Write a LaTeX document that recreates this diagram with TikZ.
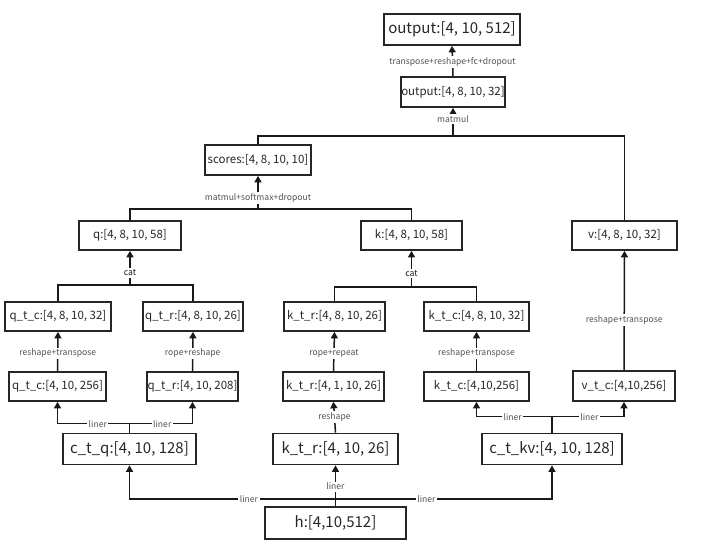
\documentclass[tikz,border=0pt]{standalone}
\usepackage{fontspec}
\setmainfont{Noto Sans CJK SC}
\usetikzlibrary{arrows.meta,calc}
\begin{document}
\begin{tikzpicture}[x=1pt,y=-1pt,
  box/.style={draw=black!85,line width=1.7pt,inner sep=0pt,minimum height=29pt,text=black!85,font=\fontsize{11.5}{13}\selectfont},
  bigbox/.style={box,minimum height=31pt,font=\fontsize{15}{17}\selectfont},
  ln/.style={line width=1.5pt,black!90},
  arr/.style={ln,-{Triangle[length=6.5pt,width=7pt]}},
  lbl/.style={fill=white,inner sep=1.5pt,text=black!68,font=\fontsize{8.6}{10}\selectfont},
  catlbl/.style={lbl,text=black!90}]
\useasboundingbox (0,0) rectangle (720,546);
% nodes
\node[bigbox,minimum width=136pt] (out1) at (452,29.5) {output:[4, 10, 512]};
\node[box,minimum width=104pt,minimum height=30pt] (out2) at (453,92) {output:[4, 8, 10, 32]};
\node[box,minimum width=106pt,minimum height=30pt] (scores) at (258,160) {scores:[4, 8, 10, 10]};
\node[box,minimum width=102pt] (q) at (130,235.5) {q:[4, 8, 10, 58]};
\node[box,minimum width=101pt] (k) at (411.5,235.5) {k:[4, 8, 10, 58]};
\node[box,minimum width=105pt] (v) at (624.5,235.5) {v:[4, 8, 10, 32]};
\node[box,minimum width=106pt] (qtc) at (58,316.5) {q\_t\_c:[4, 8, 10, 32]};
\node[box,minimum width=100pt] (qtr) at (193,316.5) {q\_t\_r:[4, 8, 10, 26]};
\node[box,minimum width=101pt] (ktr) at (334.5,316.5) {k\_t\_r:[4, 8, 10, 26]};
\node[box,minimum width=105pt] (ktc) at (476.5,316.5) {k\_t\_c:[4, 8, 10, 32]};
\node[box,minimum width=97pt] (qtc2) at (57.5,386.5) {q\_t\_c:[4, 10, 256]};
\node[box,minimum width=91pt] (qtr2) at (192.5,386.5) {q\_t\_r:[4, 10, 208]};
\node[box,minimum width=101pt] (ktr2) at (333.5,386.5) {k\_t\_r:[4, 1, 10, 26]};
\node[box,minimum width=105pt] (ktc2) at (476.5,386.5) {k\_t\_c:[4,10,256]};
\node[box,minimum width=102pt,minimum height=30pt] (vtc) at (624,386) {v\_t\_c:[4,10,256]};
\node[bigbox,minimum width=133pt] (ctq) at (129.5,449) {c\_t\_q:[4, 10, 128]};
\node[bigbox,minimum width=125pt] (ktr3) at (335.5,449) {k\_t\_r:[4, 10, 26]};
\node[bigbox,minimum width=140pt] (ctkv) at (552,449) {c\_t\_kv:[4, 10, 128]};
\node[bigbox,minimum width=141pt,minimum height=32pt] (h) at (335.5,523) {h:[4,10,512]};
% junctions
\coordinate (j1) at ($(out2.south)+(0,28)$);
\coordinate (j2) at ($(scores.south)+(0,33)$);
\coordinate (jq) at ($(q.south)+(0,34)$);
\coordinate (jk) at ($(k.south)+(0,36)$);
\coordinate (jcq) at ($(ctq.north)+(0,-9)$);
\coordinate (jckv) at ($(ctkv.north)+(0,-16)$);
\coordinate (jh) at ($(h.north)+(0,-7)$);
% top
\draw[arr] (out2.north) -- node[lbl,pos=0.47]{transpose+reshape+fc+dropout} (out1.south);
\draw[ln] (scores.north) |- (j1) -| (v.north);
\draw[arr] (j1) -- node[lbl,pos=0.6]{matmul} (out2.south);
\draw[ln] (q.north) |- (j2) -| (k.north);
\draw[arr] (j2) -- node[lbl,pos=0.34]{matmul+softmax+dropout} (scores.south);
% cat
\draw[ln] (qtc.north) |- (jq) -| (qtr.north);
\draw[arr] (jq) -- node[catlbl,pos=0.35]{cat} (q.south);
\draw[ln] (ktr.north) |- (jk) -| (ktc.north);
\draw[arr] (jk) -- node[catlbl,pos=0.38]{cat} (k.south);
% reshape arrows
\draw[arr] (qtc2.north) -- node[lbl,pos=0.45]{reshape+transpose} (qtc.south);
\draw[arr] (qtr2.north) -- node[lbl,pos=0.45]{rope+reshape} (qtr.south);
\draw[arr] (ktr2.north) -- node[lbl,pos=0.45]{rope+repeat} (ktr.south);
\draw[arr] (ktc2.north) -- node[lbl,pos=0.45]{reshape+transpose} (ktc.south);
\draw[arr] (vtc.north) -- node[lbl,pos=0.42]{reshape+transpose} (v.south);
\draw[arr] (ktr3.north) -- node[lbl,pos=0.5]{reshape} (ktr2.south);
% liner from c_t_q and c_t_kv
\draw[ln] (ctq.north) -- (jcq);
\draw[arr] (jcq) -| node[lbl,pos=0.22]{liner} (qtc2.south);
\draw[arr] (jcq) -| node[lbl,pos=0.26]{liner} (qtr2.south);
\draw[ln] (ctkv.north) -- (jckv);
\draw[arr] (jckv) -| node[lbl,pos=0.26]{liner} (ktc2.south);
\draw[arr] (jckv) -| node[lbl,pos=0.26]{liner} (vtc.south);
% liner from h
\draw[arr] (h.north) -- node[lbl,pos=0.48]{liner} (ktr3.south);
\draw[arr] (jh) -| node[lbl,pos=0.21]{liner} (ctq.south);
\draw[arr] (jh) -| node[lbl,pos=0.21]{liner} (ctkv.south);
\end{tikzpicture}
\end{document}
